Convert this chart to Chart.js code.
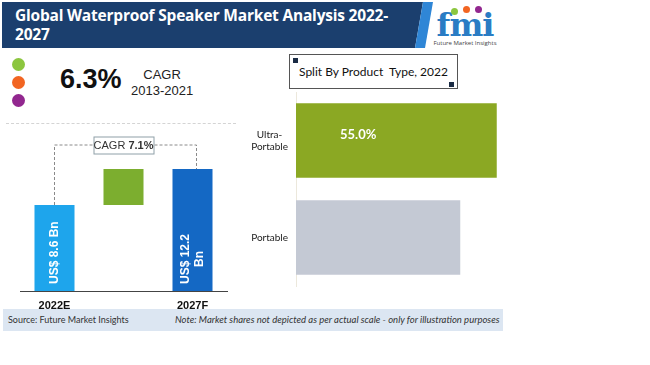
<!DOCTYPE html>
<html>
<head>
<meta charset="utf-8">
<script src="https://cdn.jsdelivr.net/npm/chart.js@4"></script>
<style>
    body { margin: 0; width: 650px; height: 365px; background: #fff; font-family: "Open Sans", sans-serif; position: relative; overflow: hidden; }
    .abs { position: absolute; }
    #header { left: 2px; top: 2px; width: 440px; height: 46px; background: #1b3f6e; clip-path: polygon(0 0, 421px 0, 413px 46px, 0 46px); }
    #stripe { left: 2px; top: 2px; width: 440px; height: 46px; background: #2f86d6; clip-path: polygon(421px 0, 431px 0, 423px 46px, 413px 46px); }
    #title { left: 15px; top: 6px; color: #fff; font-weight: bold; font-size: 15.5px; line-height: 19px; letter-spacing: -0.2px; }
    #logo { left: 433px; top: 4px; width: 64px; height: 44px; text-align: center; }
    #logo .fmi { font-family: "DejaVu Serif", serif; font-weight: bold; font-size: 32px; color: #2a7cc4; line-height: 30px; letter-spacing: -1px; margin-top: 6px; }
    #logo .sub { font-size: 6px; color: #444; line-height: 7px; }
    .ldot { width: 7px; height: 7px; border-radius: 50%; position: absolute; }
    .dot { width: 13px; height: 13px; border-radius: 50%; left: 12px; }
    #cagr { left: 60px; top: 64px; font-family: "Liberation Sans", sans-serif; font-weight: bold; font-size: 27px; color: #111; }
    #cagrlab { left: 131px; top: 67px; font-family: "Liberation Sans", sans-serif; font-size: 13px; color: #222; text-align: center; line-height: 16px; }
    #dotted { left: 6px; top: 123px; width: 230px; border-top: 1px dashed #d4d4d4; }
    #splitbox { left: 289px; top: 54px; width: 169px; height: 35px; border: 1px solid #555; box-sizing: border-box; background: #fff; }
    #splittext { left: 289px; top: 64px; width: 169px; text-align: center; font-family: "Lato", sans-serif; font-size: 12px; color: #111; }
    .sq { width: 5px; height: 5px; background: #1a2b44; }
    #footer { left: 3px; top: 309px; width: 500px; height: 22px; background: #dce6f2; font-family: "Lato", sans-serif; font-size: 9.5px; color: #333; line-height: 22px; white-space: nowrap; }
    canvas { position: absolute; z-index: 2; }
</style>
</head>
<body>
<div id="header" class="abs"></div>
<div id="stripe" class="abs"></div>
<div id="title" class="abs">Global Waterproof Speaker Market Analysis 2022-<br>2027</div>
<div id="logo" class="abs">
    <div class="ldot" style="left:18px;top:4px;background:#8cc63f"></div>
    <div class="ldot" style="left:30px;top:2px;background:#f26522"></div>
    <div class="ldot" style="left:42px;top:2px;background:#92278f"></div>
    <div class="fmi">fmi</div>
    <div class="sub">Future Market Insights</div>
</div>

<div class="abs dot" style="top:58px;background:#8cc63f"></div>
<div class="abs dot" style="top:76px;background:#f26522"></div>
<div class="abs dot" style="top:94px;background:#92278f"></div>
<div id="cagr" class="abs">6.3%</div>
<div id="cagrlab" class="abs">CAGR<br>2013-2021</div>
<div id="dotted" class="abs"></div>

<div id="splitbox" class="abs"></div>
<div class="abs sq" style="left:293px;top:58px"></div>
<div class="abs sq" style="left:449px;top:82px"></div>
<div id="splittext" class="abs">Split By Product&nbsp; Type, 2022</div>

<canvas id="growthChart" width="240" height="184" style="left:0;top:125px"></canvas>
<canvas id="splitChart" width="276" height="200" style="left:240px;top:88px"></canvas>

<div id="footer" class="abs">
    <span style="position:absolute;left:5px;font-size:9px">Source: Future Market Insights</span>
    <span style="position:absolute;left:172px;font-style:italic">Note: Market shares not depicted as per actual scale - only for illustration purposes</span>
</div>

<script>
// market size, US$ Bn
const years = ['2022E', '', '2027F'];
const marketStart = 8.6;
const marketEnd = 12.2;
const growthLabels = ['US$ 8.6 Bn', '', 'US$ 12.2|Bn'];
const cagrText = '7.1%';

// product type split
const productTypes = [['Ultra-', 'Portable'], 'Portable'];
const productShare = [55.0, 45.0];
const shareLabels = ['55.0%', ''];

const growthColors = ['#1ea5ec', '#7cae2f', '#1468c4'];
const splitColors = ['#8ba823', '#c4c9d4'];

const growthPlugin = {
    id: 'growthExtras',
    afterDatasetsDraw(chart) {
        const ctx = chart.ctx;
        const bars = chart.getDatasetMeta(0).data;
        const yScale = chart.scales.y;
        const lineY = yScale.getPixelForValue(14.6);

        // dashed connector
        ctx.save();
        ctx.strokeStyle = '#8a8a8a';
        ctx.lineWidth = 1;
        ctx.setLineDash([3, 2]);
        ctx.beginPath();
        ctx.moveTo(bars[0].x, bars[0].y);
        ctx.lineTo(bars[0].x, lineY);
        ctx.lineTo(bars[2].x + 4, lineY);
        ctx.lineTo(bars[2].x + 4, bars[2].y);
        ctx.stroke();
        ctx.setLineDash([]);

        // CAGR box
        const bx = bars[1].x, bw = 60, bh = 17;
        ctx.fillStyle = '#fff';
        ctx.fillRect(bx - bw / 2, lineY - bh / 2, bw, bh);
        ctx.strokeStyle = '#8fa0a8';
        ctx.strokeRect(bx - bw / 2 + 0.5, lineY - bh / 2 + 0.5, bw, bh);
        ctx.fillStyle = '#333';
        ctx.textBaseline = 'middle';
        ctx.font = '11px "Liberation Sans", sans-serif';
        const w1 = ctx.measureText('CAGR ').width;
        ctx.font = 'bold 11px "Liberation Sans", sans-serif';
        const w2 = ctx.measureText(cagrText).width;
        let tx = bx - (w1 + w2) / 2;
        ctx.font = '11px "Liberation Sans", sans-serif';
        ctx.textAlign = 'left';
        ctx.fillText('CAGR ', tx, lineY + 1);
        ctx.font = 'bold 11px "Liberation Sans", sans-serif';
        ctx.fillText(cagrText, tx + w1, lineY + 1);

        // rotated labels in bars
        const base = yScale.getPixelForValue(0);
        ctx.fillStyle = '#fff';
        ctx.font = 'bold 12px "Liberation Sans", sans-serif';
        growthLabels.forEach((label, i) => {
            if (!label) return;
            const lines = label.split('|');
            ctx.save();
            ctx.translate(bars[i].x, base - 7);
            ctx.rotate(-Math.PI / 2);
            ctx.textAlign = 'left';
            ctx.textBaseline = 'middle';
            lines.forEach((ln, j) => {
                const off = (j - (lines.length - 1) / 2) * 14;
                const lw = ctx.measureText(ln).width;
                const startX = lines.length > 1 && j > 0 ? (ctx.measureText(lines[0]).width - lw) / 2 : 0;
                ctx.fillText(ln, startX, off);
            });
            ctx.restore();
        });
        ctx.restore();
    }
};

new Chart(document.getElementById('growthChart'), {
    type: 'bar',
    data: {
        labels: years,
        datasets: [{
            data: [[0, marketStart], [marketStart, marketEnd], [0, marketEnd]],
            backgroundColor: growthColors,
            borderSkipped: false,
            barPercentage: 0.58,
            categoryPercentage: 1
        }]
    },
    options: {
        responsive: false,
        animation: false,
        layout: { padding: { left: 20, right: 13, top: 6, bottom: 0 } },
        plugins: { legend: { display: false }, tooltip: { enabled: false } },
        scales: {
            x: {
                grid: { display: false },
                border: { display: true, color: '#444', width: 1 },
                ticks: { color: '#111', font: { family: 'Liberation Sans', weight: 'bold', size: 11 }, padding: 0 },
                afterFit(scale) { scale.height = 18; }
            },
            y: { display: false, min: 0, max: 16 }
        }
    },
    plugins: [growthPlugin]
});

const sharePlugin = {
    id: 'shareLabels',
    afterDatasetsDraw(chart) {
        const ctx = chart.ctx;
        const bars = chart.getDatasetMeta(0).data;
        ctx.save();
        ctx.fillStyle = '#fff';
        ctx.font = 'bold 13px "Lato", sans-serif';
        ctx.textAlign = 'left';
        ctx.textBaseline = 'middle';
        shareLabels.forEach((label, i) => {
            if (!label) return;
            ctx.fillText(label, chart.chartArea.left + 44, bars[i].y - 6);
        });
        ctx.restore();
    }
};

new Chart(document.getElementById('splitChart'), {
    type: 'bar',
    data: {
        labels: productTypes,
        datasets: [{
            data: productShare,
            backgroundColor: splitColors,
            barPercentage: 0.77,
            categoryPercentage: 1
        }]
    },
    options: {
        indexAxis: 'y',
        responsive: false,
        animation: false,
        layout: { padding: { left: 0, right: 1, top: 4, bottom: 2 } },
        plugins: { legend: { display: false }, tooltip: { enabled: false } },
        scales: {
            x: { display: false, min: 0, max: 60 },
            y: {
                grid: { display: false },
                border: { display: true, color: '#ece8dc' },
                ticks: { color: '#222', crossAlign: 'center', font: { family: 'Lato', size: 10 }, padding: 0 },
                afterFit(scale) {
                    scale.width = 56;
                    scale.paddingTop = 0;
                    scale.paddingBottom = 0;
                }
            }
        }
    },
    plugins: [sharePlugin]
});
</script>
</body>
</html>
